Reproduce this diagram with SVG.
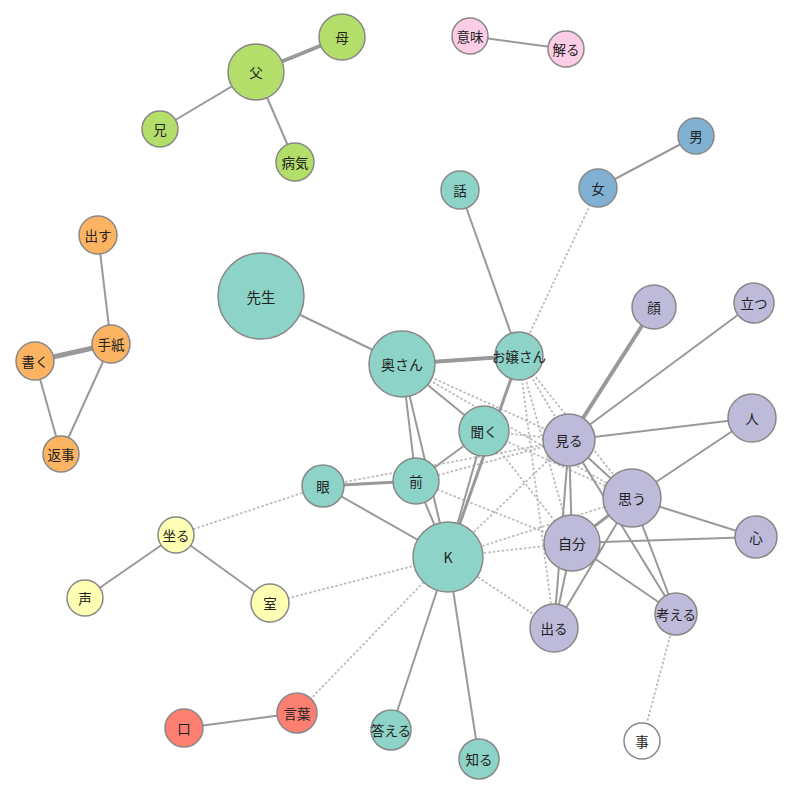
<svg xmlns="http://www.w3.org/2000/svg" width="800" height="797" viewBox="0 0 800 797">
<style>
.e{stroke:#999;stroke-width:2;fill:none}
.w3{stroke-width:3}
.w4{stroke-width:4}
.w5{stroke-width:5}
.d{stroke:#bbb;stroke-width:1.8;stroke-dasharray:2.5,2;fill:none}
circle{stroke:#888;stroke-width:1.5}
.t{fill:#8dd3c7}.p{fill:#bebada}.g{fill:#b3de69}.o{fill:#fdb462}.y{fill:#ffffb3}.r{fill:#fb8072}.k{fill:#fccde5}.b{fill:#80b1d3}.wh{fill:#ffffff}
text{font-family:"Noto Sans CJK JP","Noto Sans",sans-serif;font-size:13.5px;fill:#222;text-anchor:middle;dominant-baseline:central}
</style>
<rect width="800" height="797" fill="#fff"/>
<g id="edges">
<line class="d" x1="598" y1="188" x2="519" y2="356"/>
<line class="d" x1="519" y1="356" x2="569" y2="440"/>
<line class="d" x1="519" y1="356" x2="632" y2="498"/>
<line class="d" x1="519" y1="356" x2="572" y2="543"/>
<line class="d" x1="519" y1="356" x2="554" y2="628"/>
<line class="d" x1="402" y1="364" x2="569" y2="440"/>
<line class="d" x1="402" y1="364" x2="632" y2="498"/>
<line class="d" x1="484" y1="431" x2="569" y2="440"/>
<line class="d" x1="484" y1="431" x2="572" y2="543"/>
<line class="d" x1="484" y1="431" x2="632" y2="498"/>
<line class="d" x1="416" y1="481" x2="569" y2="440"/>
<line class="d" x1="416" y1="481" x2="572" y2="543"/>
<line class="d" x1="323" y1="486" x2="569" y2="440"/>
<line class="d" x1="448" y1="557" x2="569" y2="440"/>
<line class="d" x1="448" y1="557" x2="632" y2="498"/>
<line class="d" x1="448" y1="557" x2="572" y2="543"/>
<line class="d" x1="448" y1="557" x2="554" y2="628"/>
<line class="d" x1="176" y1="535" x2="323" y2="486"/>
<line class="d" x1="270" y1="603" x2="448" y2="557"/>
<line class="d" x1="297" y1="713" x2="448" y2="557"/>
<line class="d" x1="676" y1="614" x2="642" y2="741"/>
<line class="e w4" x1="256" y1="72" x2="342" y2="37"/>
<line class="e" x1="256" y1="72" x2="160" y2="129"/>
<line class="e" x1="256" y1="72" x2="295" y2="162"/>
<line class="e" x1="470" y1="36" x2="566" y2="49"/>
<line class="e" x1="696" y1="136" x2="598" y2="188"/>
<line class="e" x1="460" y1="190" x2="519" y2="356"/>
<line class="e" x1="98" y1="235" x2="111" y2="344"/>
<line class="e w5" x1="111" y1="344" x2="35" y2="361"/>
<line class="e" x1="35" y1="361" x2="61" y2="454"/>
<line class="e" x1="111" y1="344" x2="61" y2="454"/>
<line class="e" x1="261" y1="296" x2="402" y2="364"/>
<line class="e w4" x1="402" y1="364" x2="519" y2="356"/>
<line class="e" x1="402" y1="364" x2="484" y2="431"/>
<line class="e" x1="402" y1="364" x2="416" y2="481"/>
<line class="e" x1="402" y1="364" x2="448" y2="557"/>
<line class="e" x1="484" y1="431" x2="416" y2="481"/>
<line class="e w3" x1="416" y1="481" x2="323" y2="486"/>
<line class="e" x1="323" y1="486" x2="448" y2="557"/>
<line class="e" x1="416" y1="481" x2="448" y2="557"/>
<line class="e w3" x1="519" y1="356" x2="448" y2="557"/>
<line class="e" x1="484" y1="431" x2="448" y2="557"/>
<line class="e w4" x1="569" y1="440" x2="654" y2="307"/>
<line class="e" x1="569" y1="440" x2="754" y2="303"/>
<line class="e" x1="569" y1="440" x2="752" y2="418"/>
<line class="e" x1="569" y1="440" x2="632" y2="498"/>
<line class="e" x1="569" y1="440" x2="676" y2="614"/>
<line class="e" x1="569" y1="440" x2="572" y2="543"/>
<line class="e" x1="569" y1="440" x2="554" y2="628"/>
<line class="e" x1="572" y1="543" x2="554" y2="628"/>
<line class="e" x1="632" y1="498" x2="554" y2="628"/>
<line class="e w3" x1="632" y1="498" x2="572" y2="543"/>
<line class="e" x1="632" y1="498" x2="752" y2="418"/>
<line class="e" x1="632" y1="498" x2="756" y2="537"/>
<line class="e" x1="572" y1="543" x2="756" y2="537"/>
<line class="e" x1="632" y1="498" x2="676" y2="614"/>
<line class="e" x1="572" y1="543" x2="676" y2="614"/>
<line class="e" x1="448" y1="557" x2="391" y2="730"/>
<line class="e" x1="448" y1="557" x2="479" y2="759"/>
<line class="e" x1="176" y1="535" x2="85" y2="598"/>
<line class="e" x1="176" y1="535" x2="270" y2="603"/>
<line class="e" x1="297" y1="713" x2="184" y2="728"/>
</g>
<g id="n-chichi"><circle class="g" cx="256" cy="72" r="28"/><text x="256" y="72">父</text></g>
<g id="n-haha"><circle class="g" cx="342" cy="37" r="23"/><text x="342" y="37">母</text></g>
<g id="n-ani"><circle class="g" cx="160" cy="129" r="18"/><text x="160" y="129">兄</text></g>
<g id="n-byouki"><circle class="g" cx="295" cy="162" r="19"/><text x="295" y="162">病気</text></g>
<g id="n-imi"><circle class="k" cx="470" cy="36" r="18"/><text x="470" y="36">意味</text></g>
<g id="n-wakaru"><circle class="k" cx="566" cy="49" r="18"/><text x="566" y="49">解る</text></g>
<g id="n-otoko"><circle class="b" cx="696" cy="136" r="18"/><text x="696" y="136">男</text></g>
<g id="n-onna"><circle class="b" cx="598" cy="188" r="19"/><text x="598" y="188">女</text></g>
<g id="n-hanashi"><circle class="t" cx="460" cy="190" r="19"/><text x="460" y="190">話</text></g>
<g id="n-dasu"><circle class="o" cx="98" cy="235" r="19"/><text x="98" y="235">出す</text></g>
<g id="n-tegami"><circle class="o" cx="111" cy="344" r="19"/><text x="111" y="344">手紙</text></g>
<g id="n-kaku"><circle class="o" cx="35" cy="361" r="19"/><text x="35" y="361">書く</text></g>
<g id="n-henji"><circle class="o" cx="61" cy="454" r="18"/><text x="61" y="454">返事</text></g>
<g id="n-sensei"><circle class="t" cx="261" cy="296" r="43"/><text x="261" y="296" style="font-size:14.5px">先生</text></g>
<g id="n-okusan"><circle class="t" cx="402" cy="364" r="33"/><text x="402" y="364" style="font-size:14px">奥さん</text></g>
<g id="n-ojousan"><circle class="t" cx="519" cy="356" r="24"/><text x="519" y="356">お嬢さん</text></g>
<g id="n-kiku"><circle class="t" cx="484" cy="431" r="25"/><text x="484" y="431">聞く</text></g>
<g id="n-miru"><circle class="p" cx="569" cy="440" r="26"/><text x="569" y="440">見る</text></g>
<g id="n-kao"><circle class="p" cx="654" cy="307" r="22"/><text x="654" y="307">顔</text></g>
<g id="n-tatsu"><circle class="p" cx="754" cy="303" r="20"/><text x="754" y="303">立つ</text></g>
<g id="n-hito"><circle class="p" cx="752" cy="418" r="24"/><text x="752" y="418">人</text></g>
<g id="n-omou"><circle class="p" cx="632" cy="498" r="29"/><text x="632" y="498" style="font-size:14px">思う</text></g>
<g id="n-kokoro"><circle class="p" cx="756" cy="537" r="21"/><text x="756" y="537">心</text></g>
<g id="n-jibun"><circle class="p" cx="572" cy="543" r="28"/><text x="572" y="543" style="font-size:14px">自分</text></g>
<g id="n-deru"><circle class="p" cx="554" cy="628" r="24"/><text x="554" y="628">出る</text></g>
<g id="n-kangaeru"><circle class="p" cx="676" cy="614" r="21"/><text x="676" y="614">考える</text></g>
<g id="n-koto"><circle class="wh" cx="642" cy="741" r="18"/><text x="642" y="741">事</text></g>
<g id="n-me"><circle class="t" cx="323" cy="486" r="21"/><text x="323" y="486">眼</text></g>
<g id="n-mae"><circle class="t" cx="416" cy="481" r="23"/><text x="416" y="481">前</text></g>
<g id="n-K"><circle class="t" cx="448" cy="557" r="35"/><text x="448" y="557" style="font-size:14px">K</text></g>
<g id="n-suwaru"><circle class="y" cx="176" cy="535" r="18"/><text x="176" y="535">坐る</text></g>
<g id="n-koe"><circle class="y" cx="85" cy="598" r="18"/><text x="85" y="598">声</text></g>
<g id="n-shitsu"><circle class="y" cx="270" cy="603" r="19"/><text x="270" y="603">室</text></g>
<g id="n-kotoba"><circle class="r" cx="297" cy="713" r="20"/><text x="297" y="713">言葉</text></g>
<g id="n-kuchi"><circle class="r" cx="184" cy="728" r="19"/><text x="184" y="728">口</text></g>
<g id="n-kotaeru"><circle class="t" cx="391" cy="730" r="20"/><text x="391" y="730">答える</text></g>
<g id="n-shiru"><circle class="t" cx="479" cy="759" r="20"/><text x="479" y="759">知る</text></g>
</svg>
